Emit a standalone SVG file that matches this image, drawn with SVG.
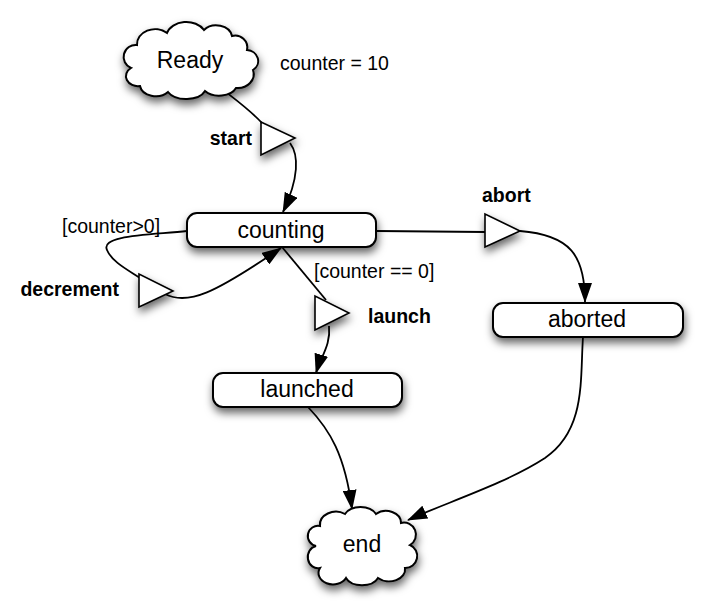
<svg xmlns="http://www.w3.org/2000/svg" width="714" height="612" viewBox="0 0 714 612">
<style>
.node{fill:#fff;stroke:#000;stroke-width:2;filter:url(#sh)}
.tri{fill:#fff;stroke:#000;stroke-width:1.6;filter:url(#sh)}
.lbl{font-family:"Liberation Sans",Arial,sans-serif;font-size:23px;fill:#000;text-anchor:middle}
.t{font-family:"Liberation Sans",Arial,sans-serif;font-size:19.5px;fill:#000}
.b{font-family:"Liberation Sans",Arial,sans-serif;font-size:19.5px;font-weight:bold;fill:#000}
.c{fill:none;stroke:#000;stroke-width:1.8}
.a{marker-end:url(#ah)}
</style>
<defs>
<filter id="sh" x="-30%" y="-30%" width="160%" height="180%">
<feDropShadow dx="1" dy="5" stdDeviation="4" flood-color="#000" flood-opacity="0.6"/>
</filter>
<marker id="ah" markerUnits="userSpaceOnUse" markerWidth="20" markerHeight="14" refX="19" refY="7" orient="auto">
<path d="M0,0 L20,7 L0,14 z" fill="#000"/>
</marker>
</defs>
<rect width="714" height="612" fill="#fff"/>
<g id="connectors">
<path class="c" d="M222,89 C236,100 250,110 262,123"/>
<path class="c a" d="M290,143 C299,155 299,178 283,212"/>
<path class="c" d="M187,231 C150,235 100,235 107,250 C112,262 128,270 140,278"/>
<path class="c a" d="M165,294 C188,306 215,293 281,248"/>
<path class="c" d="M282,247 L326,300"/>
<path class="c a" d="M329,326 C331,345 321,356 316,373"/>
<path class="c" d="M377,231 L485,232"/>
<path class="c a" d="M520,231 C570,235 585,255 585,302"/>
<path class="c a" d="M308,407 C330,430 345,455 352,509"/>
<path class="c a" d="M583,337 C580,380 586,430 545,458 C505,484 445,503 408,520"/>
</g>
<g id="ready">
<path class="node" d="M137,45 A18,15 0 0 1 167,33 A20,15 0 0 1 204,30 A16,13 0 0 1 232,36 A12,12 0 0 1 247,50 A12,11 0 0 1 253,70 A16,14 0 0 1 236,88 A18,12 0 0 1 205,91 A20,12 0 0 1 168,92 A16,12 0 0 1 140,86 A12,10 0 0 1 131,68 A12,12 0 0 1 137,45 Z"/>
<text class="lbl" x="190" y="68">Ready</text>
</g>
<text class="t" x="280" y="70">counter = 10</text>
<g id="start">
<polygon class="tri" points="261,122 261,155 295,138"/>
<text class="b" x="252" y="145" text-anchor="end">start</text>
</g>
<g id="counting">
<rect class="node" x="187" y="213" width="189" height="34" rx="10"/>
<text class="lbl" x="281" y="238">counting</text>
</g>
<text class="t" x="62" y="233">[counter&gt;0]</text>
<g id="decrement">
<polygon class="tri" points="139,274 139,307 173,291"/>
<text class="b" x="119" y="296" text-anchor="end">decrement</text>
</g>
<text class="t" x="314" y="278">[counter == 0]</text>
<g id="launch">
<polygon class="tri" points="315,296 315,330 349,313"/>
<text class="b" x="368" y="323">launch</text>
</g>
<g id="abort">
<polygon class="tri" points="485,214 485,247 520,231"/>
<text class="b" x="482" y="202">abort</text>
</g>
<g id="aborted">
<rect class="node" x="493" y="303" width="190" height="34" rx="10"/>
<text class="lbl" x="587" y="327">aborted</text>
</g>
<g id="launched">
<rect class="node" x="213" y="373" width="189" height="34" rx="10"/>
<text class="lbl" x="307" y="397">launched</text>
</g>
<g id="end">
<path class="node" d="M320,526 A16,13 0 0 1 345,514 A17,12 0 0 1 376,514 A15,12 0 0 1 401,523 A12,12 0 0 1 410,545 A12,12 0 0 1 405,568 A16,12 0 0 1 378,578 A17,11 0 0 1 346,578 A14,11 0 0 1 320,568 A10,11 0 0 1 316,546 A10,10 0 0 1 320,526 Z"/>
<text class="lbl" x="362" y="552">end</text>
</g>
</svg>
